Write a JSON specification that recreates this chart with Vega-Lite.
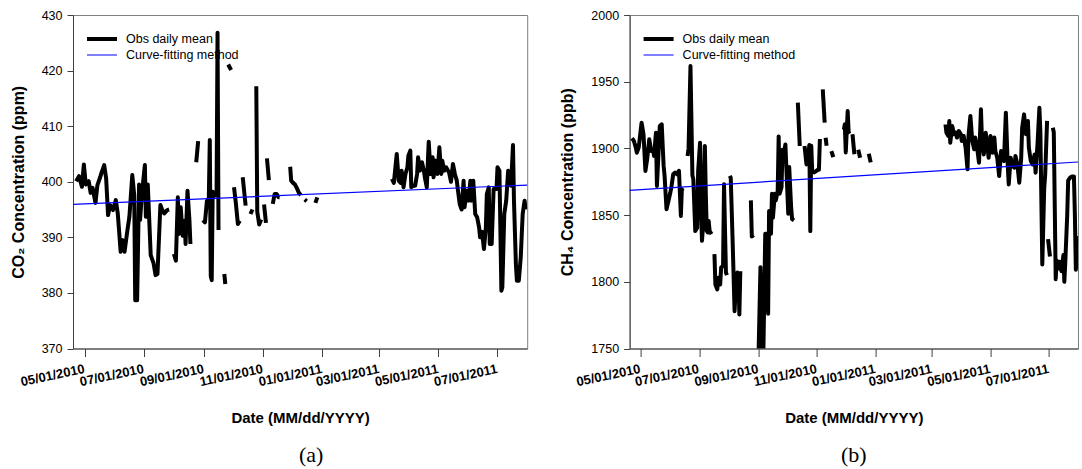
{
"$schema": "https://vega.github.io/schema/vega-lite/v6.json",
"background": "white",
"padding": {"left": 9, "top": 8, "right": 0, "bottom": 0},
"spacing": 101.6,
"bounds": "flush",
"datasets": {
"co2": [
{"d":"2010-04-22","v":400.1,"g":1,"s":"obs"},{"d":"2010-04-25","v":401.0,"g":1,"s":"obs"},{"d":"2010-04-28","v":399.1,"g":1,"s":"obs"},{"d":"2010-04-30","v":403.1,"g":1,"s":"obs"},{"d":"2010-05-02","v":399.5,"g":1,"s":"obs"},{"d":"2010-05-05","v":400.1,"g":1,"s":"obs"},{"d":"2010-05-07","v":398.0,"g":1,"s":"obs"},{"d":"2010-05-09","v":398.9,"g":1,"s":"obs"},{"d":"2010-05-12","v":396.2,"g":1,"s":"obs"},{"d":"2010-05-14","v":399.4,"g":1,"s":"obs"},{"d":"2010-05-17","v":400.9,"g":1,"s":"obs"},{"d":"2010-05-18","v":401.5,"g":1,"s":"obs"},{"d":"2010-05-21","v":403.0,"g":1,"s":"obs"},{"d":"2010-05-23","v":400.6,"g":1,"s":"obs"},{"d":"2010-05-25","v":394.0,"g":1,"s":"obs"},{"d":"2010-05-27","v":395.8,"g":1,"s":"obs"},{"d":"2010-05-30","v":394.9,"g":1,"s":"obs"},{"d":"2010-06-02","v":396.7,"g":1,"s":"obs"},{"d":"2010-06-04","v":394.3,"g":1,"s":"obs"},{"d":"2010-06-07","v":387.4,"g":1,"s":"obs"},{"d":"2010-06-09","v":389.5,"g":1,"s":"obs"},{"d":"2010-06-11","v":387.4,"g":1,"s":"obs"},{"d":"2010-06-14","v":391.3,"g":1,"s":"obs"},{"d":"2010-06-16","v":393.7,"g":1,"s":"obs"},{"d":"2010-06-19","v":401.2,"g":1,"s":"obs"},{"d":"2010-06-21","v":397.6,"g":1,"s":"obs"},{"d":"2010-06-22","v":378.7,"g":1,"s":"obs"},{"d":"2010-06-24","v":378.7,"g":1,"s":"obs"},{"d":"2010-06-26","v":399.5,"g":1,"s":"obs"},{"d":"2010-06-27","v":393.1,"g":1,"s":"obs"},{"d":"2010-06-29","v":398.0,"g":1,"s":"obs"},{"d":"2010-07-02","v":403.0,"g":1,"s":"obs"},{"d":"2010-07-03","v":393.7,"g":1,"s":"obs"},{"d":"2010-07-05","v":399.5,"g":1,"s":"obs"},{"d":"2010-07-08","v":386.8,"g":1,"s":"obs"},{"d":"2010-07-11","v":385.3,"g":1,"s":"obs"},{"d":"2010-07-13","v":383.2,"g":1,"s":"obs"},{"d":"2010-07-15","v":383.4,"g":1,"s":"obs"},{"d":"2010-07-18","v":395.8,"g":1,"s":"obs"},{"d":"2010-07-20","v":394.9,"g":1,"s":"obs"},{"d":"2010-07-22","v":394.3,"g":1,"s":"obs"},{"d":"2010-07-25","v":394.9,"g":1,"s":"obs"},{"d":"2010-07-27","v":395.0,"g":1,"s":"obs"},
{"d":"2010-08-01","v":387.0,"g":2,"s":"obs"},{"d":"2010-08-03","v":385.8,"g":2,"s":"obs"},{"d":"2010-08-05","v":397.2,"g":2,"s":"obs"},{"d":"2010-08-06","v":390.6,"g":2,"s":"obs"},{"d":"2010-08-08","v":395.4,"g":2,"s":"obs"},{"d":"2010-08-10","v":390.3,"g":2,"s":"obs"},{"d":"2010-08-12","v":393.0,"g":2,"s":"obs"},{"d":"2010-08-13","v":388.8,"g":2,"s":"obs"},{"d":"2010-08-15","v":398.4,"g":2,"s":"obs"},{"d":"2010-08-17","v":393.0,"g":2,"s":"obs"},{"d":"2010-08-18","v":388.8,"g":2,"s":"obs"},
{"d":"2010-08-24","v":403.5,"g":3,"s":"obs"},{"d":"2010-08-26","v":407.3,"g":3,"s":"obs"},
{"d":"2010-08-31","v":393.1,"g":4,"s":"obs"},{"d":"2010-09-02","v":392.7,"g":4,"s":"obs"},{"d":"2010-09-04","v":396.5,"g":4,"s":"obs"},{"d":"2010-09-06","v":397.0,"g":4,"s":"obs"},{"d":"2010-09-07","v":407.5,"g":4,"s":"obs"},{"d":"2010-09-08","v":383.0,"g":4,"s":"obs"},{"d":"2010-09-09","v":382.3,"g":4,"s":"obs"},{"d":"2010-09-10","v":398.2,"g":4,"s":"obs"},{"d":"2010-09-12","v":397.5,"g":4,"s":"obs"},{"d":"2010-09-14","v":398.0,"g":4,"s":"obs"},{"d":"2010-09-15","v":426.8,"g":4,"s":"obs"},{"d":"2010-09-16","v":391.3,"g":4,"s":"obs"},
{"d":"2010-09-22","v":383.4,"g":5,"s":"obs"},{"d":"2010-09-23","v":381.6,"g":5,"s":"obs"},
{"d":"2010-09-26","v":421.1,"g":6,"s":"obs"},{"d":"2010-09-29","v":420.1,"g":6,"s":"obs"},
{"d":"2010-10-02","v":399.0,"g":7,"s":"obs"},{"d":"2010-10-04","v":396.0,"g":7,"s":"obs"},{"d":"2010-10-06","v":392.4,"g":7,"s":"obs"},{"d":"2010-10-08","v":393.0,"g":7,"s":"obs"},
{"d":"2010-10-11","v":400.8,"g":8,"s":"obs"},{"d":"2010-10-14","v":395.7,"g":8,"s":"obs"},
{"d":"2010-10-19","v":394.2,"g":9,"s":"obs"},{"d":"2010-10-21","v":395.0,"g":9,"s":"obs"},
{"d":"2010-10-25","v":417.2,"g":10,"s":"obs"},{"d":"2010-10-26","v":394.6,"g":10,"s":"obs"},{"d":"2010-10-28","v":392.3,"g":10,"s":"obs"},{"d":"2010-10-30","v":393.2,"g":10,"s":"obs"},
{"d":"2010-11-02","v":395.9,"g":11,"s":"obs"},{"d":"2010-11-04","v":392.6,"g":11,"s":"obs"},
{"d":"2010-11-05","v":404.2,"g":12,"s":"obs"},{"d":"2010-11-07","v":400.3,"g":12,"s":"obs"},
{"d":"2010-11-11","v":396.0,"g":13,"s":"obs"},{"d":"2010-11-13","v":397.8,"g":13,"s":"obs"},{"d":"2010-11-15","v":397.8,"g":13,"s":"obs"},{"d":"2010-11-17","v":397.2,"g":13,"s":"obs"},{"d":"2010-11-18","v":397.2,"g":13,"s":"obs"},
{"d":"2010-11-29","v":402.7,"g":14,"s":"obs"},{"d":"2010-11-30","v":400.2,"g":14,"s":"obs"},{"d":"2010-12-02","v":399.8,"g":14,"s":"obs"},{"d":"2010-12-04","v":399.5,"g":14,"s":"obs"},{"d":"2010-12-06","v":398.8,"g":14,"s":"obs"},{"d":"2010-12-08","v":398.0,"g":14,"s":"obs"},{"d":"2010-12-10","v":397.6,"g":14,"s":"obs"},
{"d":"2010-12-14","v":396.8,"g":15,"s":"obs"},{"d":"2010-12-16","v":396.5,"g":15,"s":"obs"},
{"d":"2010-12-25","v":396.2,"g":16,"s":"obs"},{"d":"2010-12-27","v":397.2,"g":16,"s":"obs"},
{"d":"2011-03-14","v":400.5,"g":17,"s":"obs"},{"d":"2011-03-16","v":399.8,"g":17,"s":"obs"},{"d":"2011-03-19","v":405.0,"g":17,"s":"obs"},{"d":"2011-03-21","v":400.2,"g":17,"s":"obs"},{"d":"2011-03-23","v":399.8,"g":17,"s":"obs"},{"d":"2011-03-24","v":402.0,"g":17,"s":"obs"},{"d":"2011-03-26","v":399.0,"g":17,"s":"obs"},{"d":"2011-03-28","v":401.4,"g":17,"s":"obs"},{"d":"2011-03-30","v":402.6,"g":17,"s":"obs"},{"d":"2011-03-31","v":404.7,"g":17,"s":"obs"},{"d":"2011-04-02","v":405.6,"g":17,"s":"obs"},{"d":"2011-04-03","v":399.0,"g":17,"s":"obs"},{"d":"2011-04-05","v":399.3,"g":17,"s":"obs"},{"d":"2011-04-07","v":399.3,"g":17,"s":"obs"},{"d":"2011-04-09","v":401.4,"g":17,"s":"obs"},{"d":"2011-04-10","v":404.4,"g":17,"s":"obs"},{"d":"2011-04-12","v":402.0,"g":17,"s":"obs"},{"d":"2011-04-14","v":403.5,"g":17,"s":"obs"},{"d":"2011-04-16","v":402.0,"g":17,"s":"obs"},{"d":"2011-04-17","v":400.8,"g":17,"s":"obs"},{"d":"2011-04-19","v":399.0,"g":17,"s":"obs"},{"d":"2011-04-21","v":407.2,"g":17,"s":"obs"},{"d":"2011-04-23","v":401.4,"g":17,"s":"obs"},{"d":"2011-04-25","v":404.4,"g":17,"s":"obs"},{"d":"2011-04-26","v":400.8,"g":17,"s":"obs"},{"d":"2011-04-28","v":403.8,"g":17,"s":"obs"},{"d":"2011-04-30","v":401.4,"g":17,"s":"obs"},{"d":"2011-05-02","v":406.2,"g":17,"s":"obs"},{"d":"2011-05-04","v":401.4,"g":17,"s":"obs"},{"d":"2011-05-05","v":403.8,"g":17,"s":"obs"},{"d":"2011-05-07","v":402.0,"g":17,"s":"obs"},{"d":"2011-05-09","v":402.6,"g":17,"s":"obs"},{"d":"2011-05-11","v":402.0,"g":17,"s":"obs"},{"d":"2011-05-12","v":401.7,"g":17,"s":"obs"},{"d":"2011-05-14","v":400.0,"g":17,"s":"obs"},{"d":"2011-05-16","v":403.2,"g":17,"s":"obs"},{"d":"2011-05-18","v":401.4,"g":17,"s":"obs"},{"d":"2011-05-20","v":400.2,"g":17,"s":"obs"},{"d":"2011-05-21","v":398.7,"g":17,"s":"obs"},{"d":"2011-05-23","v":396.0,"g":17,"s":"obs"},{"d":"2011-05-25","v":395.0,"g":17,"s":"obs"},{"d":"2011-05-27","v":400.2,"g":17,"s":"obs"},{"d":"2011-05-28","v":395.4,"g":17,"s":"obs"},{"d":"2011-05-30","v":398.4,"g":17,"s":"obs"},{"d":"2011-06-01","v":396.6,"g":17,"s":"obs"},{"d":"2011-06-03","v":400.2,"g":17,"s":"obs"},{"d":"2011-06-04","v":396.6,"g":17,"s":"obs"},{"d":"2011-06-06","v":400.2,"g":17,"s":"obs"},{"d":"2011-06-08","v":394.2,"g":17,"s":"obs"},{"d":"2011-06-10","v":393.6,"g":17,"s":"obs"},{"d":"2011-06-12","v":391.8,"g":17,"s":"obs"},{"d":"2011-06-13","v":390.0,"g":17,"s":"obs"},{"d":"2011-06-15","v":391.0,"g":17,"s":"obs"},{"d":"2011-06-17","v":387.9,"g":17,"s":"obs"},{"d":"2011-06-19","v":391.8,"g":17,"s":"obs"},{"d":"2011-06-20","v":397.8,"g":17,"s":"obs"},{"d":"2011-06-22","v":399.0,"g":17,"s":"obs"},{"d":"2011-06-23","v":388.8,"g":17,"s":"obs"},{"d":"2011-06-25","v":388.8,"g":17,"s":"obs"},{"d":"2011-06-27","v":398.7,"g":17,"s":"obs"},{"d":"2011-06-28","v":398.7,"g":17,"s":"obs"},{"d":"2011-06-30","v":398.7,"g":17,"s":"obs"},{"d":"2011-07-01","v":402.6,"g":17,"s":"obs"},{"d":"2011-07-03","v":402.0,"g":17,"s":"obs"},{"d":"2011-07-05","v":380.4,"g":17,"s":"obs"},{"d":"2011-07-06","v":381.0,"g":17,"s":"obs"},{"d":"2011-07-08","v":394.2,"g":17,"s":"obs"},{"d":"2011-07-10","v":396.6,"g":17,"s":"obs"},{"d":"2011-07-12","v":402.0,"g":17,"s":"obs"},{"d":"2011-07-14","v":401.4,"g":17,"s":"obs"},{"d":"2011-07-15","v":399.3,"g":17,"s":"obs"},{"d":"2011-07-17","v":406.6,"g":17,"s":"obs"},{"d":"2011-07-18","v":396.6,"g":17,"s":"obs"},{"d":"2011-07-20","v":385.2,"g":17,"s":"obs"},{"d":"2011-07-21","v":382.2,"g":17,"s":"obs"},{"d":"2011-07-23","v":382.2,"g":17,"s":"obs"},{"d":"2011-07-25","v":386.4,"g":17,"s":"obs"},{"d":"2011-07-27","v":394.2,"g":17,"s":"obs"},{"d":"2011-07-29","v":396.6,"g":17,"s":"obs"},{"d":"2011-07-30","v":395.0,"g":17,"s":"obs"}
],
"co2fit": [
{"d":"2010-04-18","v":395.93,"s":"fit"},{"d":"2011-08-01","v":399.41,"s":"fit"}
],
"ch4": [
{"d":"2010-04-22","v":1907.6,"g":1,"s":"obs"},{"d":"2010-04-24","v":1905.6,"g":1,"s":"obs"},{"d":"2010-04-26","v":1900.6,"g":1,"s":"obs"},{"d":"2010-04-27","v":1896.8,"g":1,"s":"obs"},{"d":"2010-04-29","v":1900.6,"g":1,"s":"obs"},{"d":"2010-05-01","v":1913.1,"g":1,"s":"obs"},{"d":"2010-05-02","v":1919.3,"g":1,"s":"obs"},{"d":"2010-05-04","v":1910.6,"g":1,"s":"obs"},{"d":"2010-05-06","v":1883.1,"g":1,"s":"obs"},{"d":"2010-05-08","v":1893.1,"g":1,"s":"obs"},{"d":"2010-05-10","v":1906.8,"g":1,"s":"obs"},{"d":"2010-05-12","v":1898.1,"g":1,"s":"obs"},{"d":"2010-05-14","v":1899.3,"g":1,"s":"obs"},{"d":"2010-05-15","v":1894.4,"g":1,"s":"obs"},{"d":"2010-05-17","v":1911.8,"g":1,"s":"obs"},{"d":"2010-05-18","v":1871.9,"g":1,"s":"obs"},{"d":"2010-05-21","v":1916.8,"g":1,"s":"obs"},{"d":"2010-05-23","v":1918.1,"g":1,"s":"obs"},{"d":"2010-05-25","v":1886.9,"g":1,"s":"obs"},{"d":"2010-05-26","v":1879.4,"g":1,"s":"obs"},{"d":"2010-05-28","v":1854.4,"g":1,"s":"obs"},{"d":"2010-05-30","v":1860.6,"g":1,"s":"obs"},{"d":"2010-06-01","v":1866.9,"g":1,"s":"obs"},{"d":"2010-06-02","v":1870.6,"g":1,"s":"obs"},{"d":"2010-06-04","v":1880.6,"g":1,"s":"obs"},{"d":"2010-06-06","v":1881.9,"g":1,"s":"obs"},{"d":"2010-06-08","v":1880.6,"g":1,"s":"obs"},{"d":"2010-06-10","v":1883.2,"g":1,"s":"obs"},{"d":"2010-06-12","v":1849.4,"g":1,"s":"obs"},{"d":"2010-06-13","v":1869.3,"g":1,"s":"obs"},{"d":"2010-06-14","v":1868.1,"g":1,"s":"obs"},
{"d":"2010-06-19","v":1894.3,"g":2,"s":"obs"},{"d":"2010-06-20","v":1900.0,"g":2,"s":"obs"},{"d":"2010-06-22","v":1961.8,"g":2,"s":"obs"},{"d":"2010-06-24","v":1880.0,"g":2,"s":"obs"},{"d":"2010-06-25","v":1876.8,"g":2,"s":"obs"},{"d":"2010-06-27","v":1838.0,"g":2,"s":"obs"},{"d":"2010-06-29","v":1840.5,"g":2,"s":"obs"},{"d":"2010-06-30","v":1883.0,"g":2,"s":"obs"},{"d":"2010-07-02","v":1904.3,"g":2,"s":"obs"},{"d":"2010-07-03","v":1855.6,"g":2,"s":"obs"},{"d":"2010-07-04","v":1830.7,"g":2,"s":"obs"},{"d":"2010-07-05","v":1840.5,"g":2,"s":"obs"},{"d":"2010-07-07","v":1901.8,"g":2,"s":"obs"},{"d":"2010-07-08","v":1865.6,"g":2,"s":"obs"},{"d":"2010-07-09","v":1838.2,"g":2,"s":"obs"},{"d":"2010-07-10","v":1837.0,"g":2,"s":"obs"},{"d":"2010-07-11","v":1845.5,"g":2,"s":"obs"},{"d":"2010-07-12","v":1838.0,"g":2,"s":"obs"},{"d":"2010-07-14","v":1835.7,"g":2,"s":"obs"},
{"d":"2010-07-17","v":1820.7,"g":3,"s":"obs"},{"d":"2010-07-18","v":1798.0,"g":3,"s":"obs"},{"d":"2010-07-20","v":1794.3,"g":3,"s":"obs"},{"d":"2010-07-21","v":1803.0,"g":3,"s":"obs"},{"d":"2010-07-23","v":1798.0,"g":3,"s":"obs"},{"d":"2010-07-24","v":1810.7,"g":3,"s":"obs"},{"d":"2010-07-26","v":1812.0,"g":3,"s":"obs"},{"d":"2010-07-27","v":1873.1,"g":3,"s":"obs"},{"d":"2010-07-29","v":1807.0,"g":3,"s":"obs"},{"d":"2010-07-30","v":1805.0,"g":3,"s":"obs"},
{"d":"2010-08-02","v":1879.4,"g":4,"s":"obs"},{"d":"2010-08-03","v":1878.0,"g":4,"s":"obs"},{"d":"2010-08-05","v":1830.0,"g":4,"s":"obs"},{"d":"2010-08-07","v":1778.0,"g":4,"s":"obs"},{"d":"2010-08-09","v":1805.5,"g":4,"s":"obs"},{"d":"2010-08-10","v":1807.0,"g":4,"s":"obs"},{"d":"2010-08-11","v":1806.0,"g":4,"s":"obs"},{"d":"2010-08-12","v":1775.5,"g":4,"s":"obs"},{"d":"2010-08-13","v":1808.0,"g":4,"s":"obs"},
{"d":"2010-08-24","v":1861.0,"g":5,"s":"obs"},{"d":"2010-08-25","v":1834.0,"g":5,"s":"obs"},{"d":"2010-08-27","v":1835.0,"g":5,"s":"obs"},
{"d":"2010-09-01","v":1745.0,"g":6,"s":"obs"},{"d":"2010-09-03","v":1811.0,"g":6,"s":"obs"},{"d":"2010-09-05","v":1745.0,"g":6,"s":"obs"},{"d":"2010-09-06","v":1745.0,"g":6,"s":"obs"},{"d":"2010-09-08","v":1836.0,"g":6,"s":"obs"},{"d":"2010-09-09","v":1836.0,"g":6,"s":"obs"},{"d":"2010-09-11","v":1776.0,"g":6,"s":"obs"},{"d":"2010-09-12","v":1853.0,"g":6,"s":"obs"},{"d":"2010-09-13","v":1853.0,"g":6,"s":"obs"},{"d":"2010-09-14","v":1836.0,"g":6,"s":"obs"},{"d":"2010-09-15","v":1866.0,"g":6,"s":"obs"},{"d":"2010-09-16","v":1848.0,"g":6,"s":"obs"},{"d":"2010-09-18","v":1866.0,"g":6,"s":"obs"},{"d":"2010-09-19","v":1861.0,"g":6,"s":"obs"},{"d":"2010-09-21","v":1868.0,"g":6,"s":"obs"},{"d":"2010-09-22","v":1909.0,"g":6,"s":"obs"},{"d":"2010-09-23","v":1866.0,"g":6,"s":"obs"},{"d":"2010-09-25","v":1871.0,"g":6,"s":"obs"},{"d":"2010-09-26","v":1899.0,"g":6,"s":"obs"},{"d":"2010-09-28","v":1898.0,"g":6,"s":"obs"},{"d":"2010-09-29","v":1903.0,"g":6,"s":"obs"},{"d":"2010-09-30","v":1886.0,"g":6,"s":"obs"},{"d":"2010-10-02","v":1851.0,"g":6,"s":"obs"},{"d":"2010-10-03","v":1886.0,"g":6,"s":"obs"},{"d":"2010-10-05","v":1856.0,"g":6,"s":"obs"},{"d":"2010-10-06","v":1847.0,"g":6,"s":"obs"},{"d":"2010-10-08","v":1846.0,"g":6,"s":"obs"},
{"d":"2010-10-12","v":1934.3,"g":7,"s":"obs"},{"d":"2010-10-14","v":1901.8,"g":7,"s":"obs"},
{"d":"2010-10-19","v":1901.8,"g":8,"s":"obs"},{"d":"2010-10-21","v":1888.0,"g":8,"s":"obs"},{"d":"2010-10-23","v":1895.0,"g":8,"s":"obs"},{"d":"2010-10-24","v":1902.5,"g":8,"s":"obs"},{"d":"2010-10-25","v":1838.0,"g":8,"s":"obs"},{"d":"2010-10-26","v":1902.0,"g":8,"s":"obs"},{"d":"2010-10-27","v":1883.0,"g":8,"s":"obs"},{"d":"2010-10-29","v":1882.0,"g":8,"s":"obs"},{"d":"2010-10-31","v":1883.0,"g":8,"s":"obs"},{"d":"2010-11-02","v":1884.0,"g":8,"s":"obs"},{"d":"2010-11-03","v":1884.0,"g":8,"s":"obs"},{"d":"2010-11-04","v":1907.0,"g":8,"s":"obs"},
{"d":"2010-11-07","v":1944.3,"g":9,"s":"obs"},{"d":"2010-11-09","v":1919.3,"g":9,"s":"obs"},
{"d":"2010-11-10","v":1908.0,"g":10,"s":"obs"},{"d":"2010-11-11","v":1902.0,"g":10,"s":"obs"},
{"d":"2010-11-16","v":1898.0,"g":11,"s":"obs"},{"d":"2010-11-18","v":1893.5,"g":11,"s":"obs"},
{"d":"2010-11-29","v":1914.0,"g":12,"s":"obs"},{"d":"2010-11-30","v":1918.0,"g":12,"s":"obs"},{"d":"2010-12-01","v":1897.0,"g":12,"s":"obs"},{"d":"2010-12-02","v":1913.0,"g":12,"s":"obs"},{"d":"2010-12-03","v":1928.0,"g":12,"s":"obs"},{"d":"2010-12-04","v":1912.0,"g":12,"s":"obs"},{"d":"2010-12-05","v":1911.0,"g":12,"s":"obs"},
{"d":"2010-12-08","v":1910.6,"g":13,"s":"obs"},{"d":"2010-12-10","v":1895.6,"g":13,"s":"obs"},
{"d":"2010-12-14","v":1899.0,"g":14,"s":"obs"},{"d":"2010-12-16","v":1893.0,"g":14,"s":"obs"},
{"d":"2010-12-25","v":1896.0,"g":15,"s":"obs"},{"d":"2010-12-27","v":1889.5,"g":15,"s":"obs"},
{"d":"2011-03-15","v":1918.0,"g":16,"s":"obs"},{"d":"2011-03-16","v":1911.8,"g":16,"s":"obs"},{"d":"2011-03-18","v":1909.3,"g":16,"s":"obs"},{"d":"2011-03-19","v":1920.5,"g":16,"s":"obs"},{"d":"2011-03-20","v":1904.3,"g":16,"s":"obs"},{"d":"2011-03-22","v":1916.8,"g":16,"s":"obs"},{"d":"2011-03-24","v":1910.6,"g":16,"s":"obs"},{"d":"2011-03-26","v":1911.8,"g":16,"s":"obs"},{"d":"2011-03-27","v":1908.1,"g":16,"s":"obs"},{"d":"2011-03-29","v":1913.0,"g":16,"s":"obs"},{"d":"2011-03-31","v":1910.6,"g":16,"s":"obs"},{"d":"2011-04-01","v":1905.5,"g":16,"s":"obs"},{"d":"2011-04-03","v":1909.3,"g":16,"s":"obs"},{"d":"2011-04-05","v":1900.5,"g":16,"s":"obs"},{"d":"2011-04-07","v":1884.3,"g":16,"s":"obs"},{"d":"2011-04-08","v":1909.3,"g":16,"s":"obs"},{"d":"2011-04-10","v":1924.3,"g":16,"s":"obs"},{"d":"2011-04-12","v":1905.5,"g":16,"s":"obs"},{"d":"2011-04-14","v":1899.3,"g":16,"s":"obs"},{"d":"2011-04-15","v":1908.1,"g":16,"s":"obs"},{"d":"2011-04-17","v":1900.5,"g":16,"s":"obs"},{"d":"2011-04-19","v":1889.3,"g":16,"s":"obs"},{"d":"2011-04-21","v":1929.3,"g":16,"s":"obs"},{"d":"2011-04-22","v":1908.1,"g":16,"s":"obs"},{"d":"2011-04-24","v":1895.5,"g":16,"s":"obs"},{"d":"2011-04-26","v":1911.8,"g":16,"s":"obs"},{"d":"2011-04-28","v":1900.5,"g":16,"s":"obs"},{"d":"2011-04-29","v":1893.0,"g":16,"s":"obs"},{"d":"2011-05-01","v":1909.3,"g":16,"s":"obs"},{"d":"2011-05-03","v":1896.8,"g":16,"s":"obs"},{"d":"2011-05-05","v":1908.1,"g":16,"s":"obs"},{"d":"2011-05-06","v":1898.0,"g":16,"s":"obs"},{"d":"2011-05-08","v":1893.0,"g":16,"s":"obs"},{"d":"2011-05-10","v":1879.3,"g":16,"s":"obs"},{"d":"2011-05-12","v":1898.0,"g":16,"s":"obs"},{"d":"2011-05-13","v":1893.0,"g":16,"s":"obs"},{"d":"2011-05-15","v":1890.5,"g":16,"s":"obs"},{"d":"2011-05-17","v":1926.8,"g":16,"s":"obs"},{"d":"2011-05-19","v":1886.8,"g":16,"s":"obs"},{"d":"2011-05-20","v":1873.0,"g":16,"s":"obs"},{"d":"2011-05-22","v":1893.0,"g":16,"s":"obs"},{"d":"2011-05-24","v":1886.8,"g":16,"s":"obs"},{"d":"2011-05-26","v":1885.5,"g":16,"s":"obs"},{"d":"2011-05-27","v":1894.3,"g":16,"s":"obs"},{"d":"2011-05-29","v":1888.0,"g":16,"s":"obs"},{"d":"2011-05-31","v":1874.3,"g":16,"s":"obs"},{"d":"2011-06-02","v":1893.0,"g":16,"s":"obs"},{"d":"2011-06-03","v":1915.5,"g":16,"s":"obs"},{"d":"2011-06-05","v":1925.5,"g":16,"s":"obs"},{"d":"2011-06-07","v":1910.6,"g":16,"s":"obs"},{"d":"2011-06-09","v":1920.5,"g":16,"s":"obs"},{"d":"2011-06-10","v":1900.5,"g":16,"s":"obs"},{"d":"2011-06-12","v":1890.5,"g":16,"s":"obs"},{"d":"2011-06-14","v":1888.0,"g":16,"s":"obs"},{"d":"2011-06-16","v":1895.5,"g":16,"s":"obs"},{"d":"2011-06-17","v":1881.8,"g":16,"s":"obs"},{"d":"2011-06-19","v":1903.0,"g":16,"s":"obs"},{"d":"2011-06-21","v":1930.5,"g":16,"s":"obs"},{"d":"2011-06-22","v":1912.0,"g":16,"s":"obs"},{"d":"2011-06-24","v":1813.0,"g":16,"s":"obs"},{"d":"2011-06-26","v":1870.0,"g":16,"s":"obs"},{"d":"2011-06-27","v":1880.0,"g":16,"s":"obs"},{"d":"2011-06-29","v":1920.6,"g":16,"s":"obs"},
{"d":"2011-06-30","v":1832.0,"g":17,"s":"obs"},{"d":"2011-07-02","v":1819.0,"g":17,"s":"obs"},
{"d":"2011-07-05","v":1915.5,"g":18,"s":"obs"},{"d":"2011-07-06","v":1912.0,"g":18,"s":"obs"},{"d":"2011-07-08","v":1802.0,"g":18,"s":"obs"},{"d":"2011-07-09","v":1816.0,"g":18,"s":"obs"},{"d":"2011-07-11","v":1810.0,"g":18,"s":"obs"},{"d":"2011-07-12","v":1815.0,"g":18,"s":"obs"},{"d":"2011-07-14","v":1808.0,"g":18,"s":"obs"},{"d":"2011-07-16","v":1820.0,"g":18,"s":"obs"},{"d":"2011-07-17","v":1800.0,"g":18,"s":"obs"},{"d":"2011-07-18","v":1815.0,"g":18,"s":"obs"},{"d":"2011-07-20","v":1850.0,"g":18,"s":"obs"},{"d":"2011-07-21","v":1876.0,"g":18,"s":"obs"},{"d":"2011-07-23","v":1878.0,"g":18,"s":"obs"},{"d":"2011-07-25","v":1879.0,"g":18,"s":"obs"},{"d":"2011-07-27","v":1879.0,"g":18,"s":"obs"},{"d":"2011-07-28","v":1850.0,"g":18,"s":"obs"},{"d":"2011-07-29","v":1809.0,"g":18,"s":"obs"},{"d":"2011-07-30","v":1833.0,"g":18,"s":"obs"},{"d":"2011-07-31","v":1810.0,"g":18,"s":"obs"}
],
"ch4fit": [
{"d":"2010-04-19","v":1868.58,"s":"fit"},{"d":"2011-08-01","v":1889.83,"s":"fit"}
]
},
"hconcat": [
{
"width": 454.2, "height": 333.5,
"title": {"text": "(a)", "orient": "bottom", "anchor": "middle", "offset": 19, "dx": 11},
"layer": [
{"data": {"name": "co2"},
 "mark": {"type": "line", "clip": true, "strokeJoin": "round", "strokeCap": "butt"},
 "encoding": {
  "x": {"field": "d", "type": "temporal",
   "scale": {"type": "utc", "domain": [{"year": 2010, "month": 4, "date": 18, "hours": 19, "utc": true}, {"year": 2011, "month": 7, "date": 31, "hours": 16, "utc": true}]},
   "axis": {"title": "Date (MM/dd/YYYY)", "titleY": 69, "titleBaseline": "middle", "titleFontSize": 15, "titleFontWeight": "bold",
    "values": [{"year":2010,"month":5,"date":1,"utc":true},{"year":2010,"month":6,"date":1,"utc":true},{"year":2010,"month":7,"date":1,"utc":true},{"year":2010,"month":8,"date":1,"utc":true},{"year":2010,"month":9,"date":1,"utc":true},{"year":2010,"month":10,"date":1,"utc":true},{"year":2010,"month":11,"date":1,"utc":true},{"year":2010,"month":12,"date":1,"utc":true},{"year":2011,"month":1,"date":1,"utc":true},{"year":2011,"month":2,"date":1,"utc":true},{"year":2011,"month":3,"date":1,"utc":true},{"year":2011,"month":4,"date":1,"utc":true},{"year":2011,"month":5,"date":1,"utc":true},{"year":2011,"month":6,"date":1,"utc":true},{"year":2011,"month":7,"date":1,"utc":true}],
    "labelExpr": "utcmonth(datum.value) % 2 == 0 ? utcFormat(datum.value, '%m/%d/%Y') : ''",
    "tickSize": {"condition": {"test": "utcmonth(datum.value) % 2 == 0", "value": 8}, "value": 4},
    "labelAngle": -12, "labelAlign": "right", "labelBaseline": "top", "labelPadding": 6, "labelOffset": -2, "labelFontWeight": "bold", "labelFontSize": 13}},
  "y": {"field": "v", "type": "quantitative",
   "scale": {"domain": [370, 430], "nice": false, "zero": false},
   "axis": {"title": "CO₂ Concentration (ppm)", "values": [370, 380, 390, 400, 410, 420, 430], "format": "d", "titleX": -55, "titleY": 166.75, "titleAngle": -90, "titleAlign": "center", "titleBaseline": "middle", "titleFontSize": 16, "titleFontWeight": "bold", "tickSize": 6, "labelPadding": 5, "labelFontSize": 12.5}},
  "color": {"field": "s", "type": "nominal", "scale": {"domain": ["obs", "fit"], "range": ["#000000", "#0000ff"]}, "legend": {"labelExpr": "datum.label == 'obs' ? 'Obs daily mean' : 'Curve-fitting method'"}},
  "strokeWidth": {"field": "s", "type": "nominal", "scale": {"domain": ["obs", "fit"], "range": [4, 1.2]}, "legend": {"labelExpr": "datum.label == 'obs' ? 'Obs daily mean' : 'Curve-fitting method'"}},
  "detail": {"field": "g"}
 }},
{"data": {"name": "co2fit"},
 "mark": {"type": "line", "clip": true},
 "encoding": {
  "x": {"field": "d", "type": "temporal"},
  "y": {"field": "v", "type": "quantitative"},
  "color": {"field": "s", "type": "nominal"},
  "strokeWidth": {"field": "s", "type": "nominal"}
 }}
]
},
{
"width": 448.4, "height": 333.5,
"title": {"text": "(b)", "orient": "bottom", "anchor": "middle", "offset": 19, "dx": 0},
"layer": [
{"data": {"name": "ch4"},
 "mark": {"type": "line", "clip": true, "strokeJoin": "round", "strokeCap": "butt"},
 "encoding": {
  "x": {"field": "d", "type": "temporal",
   "scale": {"type": "utc", "domain": [{"year": 2010, "month": 4, "date": 19, "hours": 12, "utc": true}, {"year": 2011, "month": 7, "date": 31, "hours": 6, "utc": true}]},
   "axis": {"title": "Date (MM/dd/YYYY)", "titleY": 69, "titleBaseline": "middle", "titleFontSize": 15, "titleFontWeight": "bold",
    "values": [{"year":2010,"month":5,"date":1,"utc":true},{"year":2010,"month":6,"date":1,"utc":true},{"year":2010,"month":7,"date":1,"utc":true},{"year":2010,"month":8,"date":1,"utc":true},{"year":2010,"month":9,"date":1,"utc":true},{"year":2010,"month":10,"date":1,"utc":true},{"year":2010,"month":11,"date":1,"utc":true},{"year":2010,"month":12,"date":1,"utc":true},{"year":2011,"month":1,"date":1,"utc":true},{"year":2011,"month":2,"date":1,"utc":true},{"year":2011,"month":3,"date":1,"utc":true},{"year":2011,"month":4,"date":1,"utc":true},{"year":2011,"month":5,"date":1,"utc":true},{"year":2011,"month":6,"date":1,"utc":true},{"year":2011,"month":7,"date":1,"utc":true}],
    "labelExpr": "utcmonth(datum.value) % 2 == 0 ? utcFormat(datum.value, '%m/%d/%Y') : ''",
    "tickSize": {"condition": {"test": "utcmonth(datum.value) % 2 == 0", "value": 8}, "value": 4},
    "labelAngle": -12, "labelAlign": "right", "labelBaseline": "top", "labelPadding": 6, "labelOffset": -2, "labelFontWeight": "bold", "labelFontSize": 13}},
  "y": {"field": "v", "type": "quantitative",
   "scale": {"domain": [1750, 2000], "nice": false, "zero": false},
   "axis": {"title": "CH₄ Concentration (ppb)", "values": [1750, 1800, 1850, 1900, 1950, 2000], "format": "d", "titleX": -62.3, "titleY": 166.75, "titleAngle": -90, "titleAlign": "center", "titleBaseline": "middle", "titleFontSize": 16, "titleFontWeight": "bold", "tickSize": 6, "labelPadding": 5, "labelFontSize": 12.5}},
  "color": {"field": "s", "type": "nominal", "scale": {"domain": ["obs", "fit"], "range": ["#000000", "#0000ff"]}, "legend": {"labelExpr": "datum.label == 'obs' ? 'Obs daily mean' : 'Curve-fitting method'"}},
  "strokeWidth": {"field": "s", "type": "nominal", "scale": {"domain": ["obs", "fit"], "range": [4, 1.2]}, "legend": {"labelExpr": "datum.label == 'obs' ? 'Obs daily mean' : 'Curve-fitting method'"}},
  "detail": {"field": "g"}
 }},
{"data": {"name": "ch4fit"},
 "mark": {"type": "line", "clip": true},
 "encoding": {
  "x": {"field": "d", "type": "temporal"},
  "y": {"field": "v", "type": "quantitative"},
  "color": {"field": "s", "type": "nominal"},
  "strokeWidth": {"field": "s", "type": "nominal"}
 }}
]
}
],
"resolve": {"scale": {"x": "independent", "y": "independent", "color": "independent", "strokeWidth": "independent"}, "legend": {"color": "independent", "strokeWidth": "independent"}},
"config": {
 "view": {"stroke": "#808080", "strokeWidth": 1},
 "axis": {"grid": false, "domainColor": "#404040", "tickColor": "#404040", "labelColor": "#000000", "titleColor": "#000000", "labelFont": "Liberation Sans", "titleFont": "Liberation Sans", "labelFlush": false, "labelOverlap": false},
 "legend": {"orient": "none", "legendX": 12, "legendY": 16, "title": null, "symbolType": "stroke", "symbolSize": 900, "labelFont": "Liberation Sans", "labelFontSize": 12.5, "labelColor": "#000000", "labelOffset": 7, "clipHeight": 16, "rowPadding": 0, "padding": 0},
 "title": {"font": "Liberation Serif", "fontSize": 22, "fontWeight": "normal", "color": "#000000"}
}
}
